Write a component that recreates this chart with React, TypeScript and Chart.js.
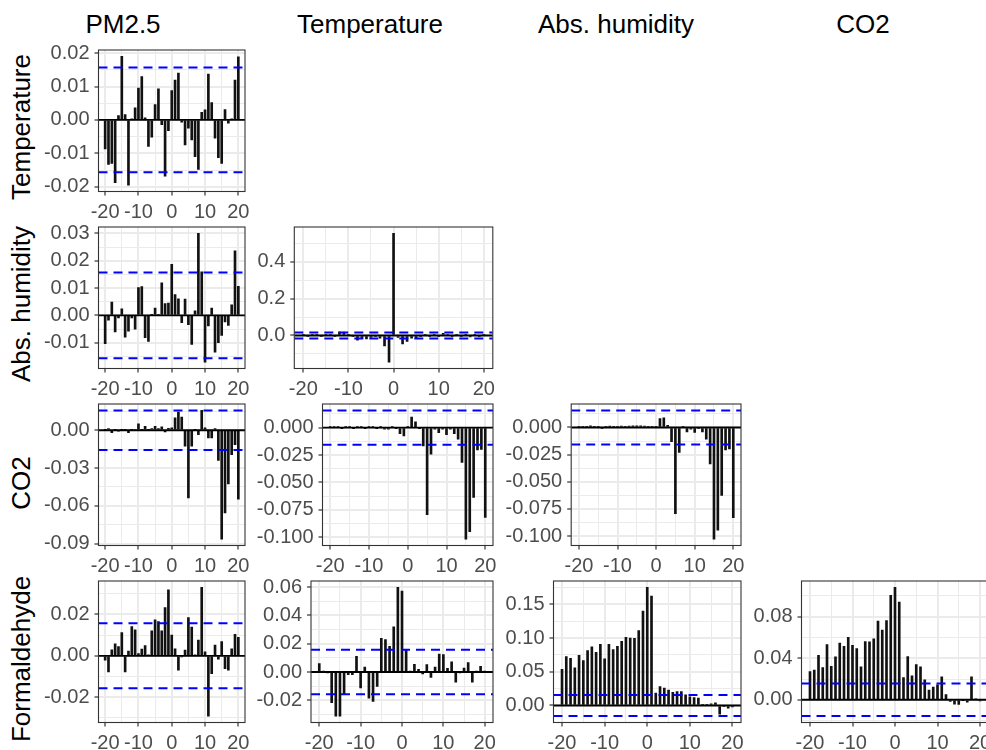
import React, { useEffect, useRef } from "react";
import { Chart, registerables } from "chart.js";

Chart.register(...registerables);

// ---------------- data ----------------
const lags = [
  -20, -19, -18, -17, -16, -15, -14, -13, -12, -11, -10, -9, -8, -7, -6, -5, -4, -3, -2, -1,
  0, 1, 2, 3, 4, 5, 6, 7, 8, 9, 10, 11, 12, 13, 14, 15, 16, 17, 18, 19, 20,
];

const ciBound = 0.0157;

const columnTitles = ["PM2.5", "Temperature", "Abs. humidity", "CO2"];
const rowTitles = ["Temperature", "Abs. humidity", "CO2", "Formaldehyde"];

const xBreaks = [-20, -10, 0, 10, 20];
const xMinorBreaks = [-15, -5, 5, 15];

// Temperature vs PM2.5
const temperatureVsPm25 = [
  -0.0087, -0.0133, -0.013, -0.0188, 0.0013, 0.019, 0.0016, -0.0195, 0.0002, 0.0036,
  0.0095, 0.013, 0.0006, -0.0079, -0.0052, 0.0046, 0.0093, -0.0014, -0.0168, -0.0032,
  0.0088,
  0.0119, 0.014, -0.0007, -0.0075, -0.0025, -0.006, -0.011, -0.0148, 0.0023, 0.003,
  0.0137, 0.0052, -0.0055, -0.0113, -0.013, 0.0031, -0.001, 0.0002, 0.0119, 0.0189,
];
// Abs. humidity vs PM2.5
const humidityVsPm25 = [
  -0.0104, -0.0018, 0.0049, -0.0061, -0.0009, 0.0024, -0.008, -0.0058, -0.0009, -0.0051,
  0.0102, 0.0105, -0.0082, -0.0095, 0.0002, 0.0027, 0.0004, 0.0119, 0.0043, 0.0045,
  0.0187,
  0.0076, 0.0061, -0.0027, 0.006, -0.0034, -0.0106, 0.0017, 0.03, 0.0159, -0.0171,
  -0.0039, 0.0027, -0.0135, -0.01, -0.0073, -0.0024, -0.0037, 0.0039, 0.0236, 0.0106,
];
// Abs. humidity vs Temperature
const humidityVsTemperature = [
  0.003, -0.004, 0.005, 0.002, -0.003, 0.004, 0.006, -0.005, 0.02, 0.018,
  0.004, -0.006, -0.025, -0.015, -0.018, -0.01, -0.006, -0.015, -0.056, -0.144,
  0.553,
  -0.01, -0.045, -0.032, -0.015, -0.012, -0.004, 0.003, -0.005, 0.004, -0.003,
  0.012, 0.004, -0.004, 0.003, -0.006, 0.004, -0.008, 0.003, -0.004, 0.002,
];
// CO2 vs PM2.5
const co2VsPm25 = [
  0.0002, 0.0013, -0.002, 0.0002, -0.0005, 0.0005, 0.0005, -0.002, 0.0005, 0.0008,
  0.005, 0.0002, 0.003, 0.0005, 0.0013, 0.003, 0.0013, 0.0027, -0.0013, 0.0016,
  0.0019,
  0.0098, 0.0143, 0.0104, -0.0127, -0.0536, -0.0127, 0.0002, -0.0035, 0.0157, 0.0019,
  -0.006, -0.006, 0.0013, -0.0239, -0.0863, -0.0655, -0.0425, -0.0194, -0.0114, -0.0547,
];
// CO2 vs Temperature
const co2VsTemperature = [
  0.0003, 0.001, 0.0002, -0.0002, 0.0003, 0.0001, -0.0003, 0.0002, 0.0003, -0.0002,
  0.0002, 0.0003, -0.0003, 0.0002, -0.0015, -0.0015, 0.001, -0.0003, -0.0055, -0.0076,
  0.001,
  0.0097, 0.0052, -0.0006, -0.0167, -0.0796, -0.0243, -0.0015, -0.0046, -0.0015, -0.0064,
  -0.0015, -0.0055, -0.0106, -0.0319, -0.1018, -0.0951, -0.0638, -0.0204, -0.0198, -0.082,
];
// CO2 vs Abs. humidity
const co2VsHumidity = [
  0.0003, 0.001, 0.001, 0.0015, 0.0002, 0.0001, -0.0002, 0.0003, 0.0012, 0.001,
  0.001, 0.0012, 0.001, 0.0012, 0.0015, 0.0015, 0.0015, 0.0012, 0.0005, 0.0002,
  0.0003,
  0.0082, 0.0088, 0.002, -0.0131, -0.0793, -0.0229, 0.001, -0.004, -0.0015, -0.0046,
  -0.0008, -0.004, -0.0107, -0.0335, -0.1027, -0.0945, -0.0625, -0.0207, -0.0198, -0.083,
];
// Formaldehyde vs PM2.5
const formaldehydeVsPm25 = [
  -0.0021, -0.0078, 0.0029, 0.0058, 0.0044, 0.0112, -0.0078, 0.0023, 0.0141, 0.0125,
  0.0011, 0.0032, 0.0049, 0.0002, 0.012, 0.0173, 0.0165, 0.0121, 0.0233, 0.0319,
  0.01,
  0.0034, -0.007, -0.0005, 0.0028, 0.0185, 0.0139, 0.0002, 0.0076, 0.033, 0.0019,
  -0.0291, -0.0086, 0.0052, -0.0016, 0.0068, -0.0062, -0.007, 0.0034, 0.0104, 0.0089,
];
// Formaldehyde vs Temperature
const formaldehydeVsTemperature = [
  0.0059, 0.0003, -0.0002, -0.0217, -0.0311, -0.0311, -0.0156, -0.0019, -0.0019, 0.0111,
  -0.0113, 0.0035, -0.0184, -0.0208, -0.0101, 0.0238, 0.0229, 0.0182, 0.0319, 0.0597,
  0.0571,
  0.0158, 0.0004, 0.0054, 0.0019, -0.0014, 0.0052, -0.0038, 0.0035, 0.0127, 0.0123,
  0.0026, 0.0071, -0.0071, -0.0005, 0.0028, 0.0066, -0.0071, 0.0002, 0.004, 0.0001,
];
// Formaldehyde vs Abs. humidity
const formaldehydeVsHumidity = [
  0.0538, 0.0726, 0.0701, 0.0558, 0.0745, 0.0666, 0.0814, 0.0869, 0.079, 0.0908,
  0.0691, 0.0908, 0.0829, 0.0879, 0.0953, 0.1012, 0.1002, 0.0997, 0.111, 0.1402,
  0.1752,
  0.1624, 0.0183, 0.0281, 0.0257, 0.0227, 0.0197, 0.0207, 0.0207, 0.0158, 0.0128,
  0.0118, 0.0109, 0.0003, 0.0002, 0.0025, 0.004, -0.0128, -0.001, -0.004, -0.002,
];
// Formaldehyde vs CO2
const formaldehydeVsCo2 = [
  0.0272, 0.0285, 0.0429, 0.031, 0.0531, 0.0323, 0.0413, 0.0547, 0.0515, 0.0602,
  0.0525, 0.0493, 0.0317, 0.056, 0.0557, 0.0586, 0.0758, 0.0672, 0.0762, 0.1005,
  0.1082,
  0.0941, 0.0214, 0.0416, 0.023, 0.0339, 0.0317, 0.0192, 0.0093, 0.0122, 0.0144,
  0.0221, 0.0051, -0.0016, -0.0042, -0.0045, -0.0006, -0.0022, 0.0221, 0.001, -0.001,
];

// y-axis tick labels (major breaks) per panel
const yBreaksTemperaturePm25 = [-0.02, -0.01, 0, 0.01, 0.02];
const yBreaksHumidityPm25 = [-0.01, 0, 0.01, 0.02, 0.03];
const yBreaksHumidityTemperature = [0, 0.2, 0.4];
const yBreaksCo2Pm25 = [-0.09, -0.06, -0.03, 0];
const yBreaksCo2Temperature = [-0.1, -0.075, -0.05, -0.025, 0];
const yBreaksCo2Humidity = [-0.1, -0.075, -0.05, -0.025, 0];
const yBreaksFormaldehydePm25 = [-0.02, 0, 0.02];
const yBreaksFormaldehydeTemperature = [-0.02, 0, 0.02, 0.04, 0.06];
const yBreaksFormaldehydeHumidity = [0, 0.05, 0.1, 0.15];
const yBreaksFormaldehydeCo2 = [0, 0.04, 0.08];

// ---------------- layout ----------------
const FONT = '"Liberation Sans", Arial, Helvetica, sans-serif';
const AXIS_W = 80;
const AXIS_H = 36;
const PAD_TOP = 14;
const PAD_RIGHT = 14;
const ROW_TOP = [50, 227, 404, 581];
const PANEL_H = 141.5;
const COL_CENTERS = [123, 370, 616, 863];
const ROW_LABEL_X = 21;
const ROW_LABEL_Y = [127, 304, 483, 659];

type PanelSpec = {
  values: number[];
  yBreaks: number[];
  digits: number;
  left: number;
  top: number;
  width: number;
  height: number;
};

const panels: PanelSpec[] = [
  { values: temperatureVsPm25, yBreaks: yBreaksTemperaturePm25, digits: 2, left: 98.5, top: ROW_TOP[0], width: 146.5, height: PANEL_H },
  { values: humidityVsPm25, yBreaks: yBreaksHumidityPm25, digits: 2, left: 98.5, top: ROW_TOP[1], width: 146.5, height: PANEL_H },
  { values: humidityVsTemperature, yBreaks: yBreaksHumidityTemperature, digits: 1, left: 294.3, top: ROW_TOP[1], width: 198.5, height: PANEL_H },
  { values: co2VsPm25, yBreaks: yBreaksCo2Pm25, digits: 2, left: 98.5, top: ROW_TOP[2], width: 146.5, height: PANEL_H },
  { values: co2VsTemperature, yBreaks: yBreaksCo2Temperature, digits: 3, left: 322.5, top: ROW_TOP[2], width: 170.5, height: PANEL_H },
  { values: co2VsHumidity, yBreaks: yBreaksCo2Humidity, digits: 3, left: 571.2, top: ROW_TOP[2], width: 169.8, height: PANEL_H },
  { values: formaldehydeVsPm25, yBreaks: yBreaksFormaldehydePm25, digits: 2, left: 98.5, top: ROW_TOP[3], width: 146.5, height: PANEL_H },
  { values: formaldehydeVsTemperature, yBreaks: yBreaksFormaldehydeTemperature, digits: 2, left: 311, top: ROW_TOP[3], width: 182, height: PANEL_H },
  { values: formaldehydeVsHumidity, yBreaks: yBreaksFormaldehydeHumidity, digits: 2, left: 553.5, top: ROW_TOP[3], width: 187.5, height: PANEL_H },
  { values: formaldehydeVsCo2, yBreaks: yBreaksFormaldehydeCo2, digits: 2, left: 801.5, top: ROW_TOP[3], width: 187, height: PANEL_H },
];

const near = (a: number, b: number) => Math.abs(a - b) < 1e-9;

const borderPlugin = {
  id: "panelBorder",
  afterDraw(chart: any) {
    const { ctx, chartArea: a } = chart;
    ctx.save();
    ctx.strokeStyle = "#333333";
    ctx.lineWidth = 1.1;
    ctx.strokeRect(a.left, a.top, a.right - a.left, a.bottom - a.top);
    ctx.restore();
  },
};

function PanelChart({ spec }: { spec: PanelSpec }) {
  const ref = useRef<HTMLCanvasElement | null>(null);
  const canvasLeft = Math.floor(spec.left - AXIS_W);
  const canvasTop = Math.floor(spec.top - PAD_TOP);
  const axisW = spec.left - canvasLeft;
  const padTop = spec.top - canvasTop;
  const cw = Math.ceil(axisW + spec.width + PAD_RIGHT);
  const ch = Math.ceil(padTop + spec.height + AXIS_H);
  const padRight = cw - axisW - spec.width;
  const axisH = ch - padTop - spec.height;

  useEffect(() => {
    if (!ref.current) return;
    const lo = Math.min(...spec.values, -ciBound);
    const hi = Math.max(...spec.values, ciBound);
    const expand = (hi - lo) * 0.05;
    const yMin = lo - expand;
    const yMax = hi + expand;
    const step = spec.yBreaks[1] - spec.yBreaks[0];
    const yAll: number[] = [];
    for (let k = -1; k <= spec.yBreaks.length; k++) {
      const major = spec.yBreaks[0] + k * step;
      const minor = major + step / 2;
      if (k >= 0 && k < spec.yBreaks.length && major >= yMin && major <= yMax) yAll.push(spec.yBreaks[k]);
      if (minor >= yMin && minor <= yMax) yAll.push(minor);
    }
    yAll.sort((a, b) => a - b);
    const isYMajor = (v: number) => spec.yBreaks.some((b) => near(b, v));
    const xAll = [...xBreaks, ...xMinorBreaks].sort((a, b) => a - b);
    const isXMajor = (v: number) => xBreaks.some((b) => near(b, v));

    const chart = new Chart(ref.current, {
      type: "bar",
      data: {
        datasets: [
          {
            type: "bar",
            data: lags.map((l, i) => ({ x: l, y: spec.values[i] })),
            backgroundColor: "#111111",
            borderWidth: 0,
            barThickness: 2,
            order: 3,
          } as any,
          {
            type: "line",
            data: [
              { x: -22, y: 0 },
              { x: 22, y: 0 },
            ],
            borderColor: "#000000",
            borderWidth: 1.8,
            pointRadius: 0,
            fill: false,
            order: 2,
          } as any,
          {
            type: "line",
            data: [
              { x: -22, y: ciBound },
              { x: 22, y: ciBound },
            ],
            borderColor: "#0000FF",
            borderWidth: 2,
            borderDash: [9, 6],
            pointRadius: 0,
            fill: false,
            order: 1,
          } as any,
          {
            type: "line",
            data: [
              { x: -22, y: -ciBound },
              { x: 22, y: -ciBound },
            ],
            borderColor: "#0000FF",
            borderWidth: 2,
            borderDash: [9, 6],
            pointRadius: 0,
            fill: false,
            order: 1,
          } as any,
        ],
      },
      options: {
        animation: false,
        responsive: false,
        maintainAspectRatio: false,
        devicePixelRatio: 1,
        events: [],
        layout: { padding: { top: padTop, right: padRight, left: 0, bottom: 0 } },
        plugins: {
          legend: { display: false },
          tooltip: { enabled: false },
          title: { display: false },
        },
        scales: {
          x: {
            type: "linear",
            min: -22,
            max: 22,
            offset: false,
            afterBuildTicks: (scale: any) => {
              scale.ticks = xAll.map((v) => ({ value: v }));
            },
            afterFit: (scale: any) => {
              scale.height = axisH;
              scale.paddingLeft = 0;
              scale.paddingRight = 0;
            },
            ticks: {
              autoSkip: false,
              maxRotation: 0,
              minRotation: 0,
              padding: 5,
              color: "#4D4D4D",
              font: { family: FONT, size: 20 },
              callback: (v: any) => (isXMajor(Number(v)) ? String(v) : ""),
            },
            grid: {
              offset: false,
              color: "#EBEBEB",
              lineWidth: (c: any) => (c.tick && isXMajor(c.tick.value) ? 2 : 1),
              tickColor: (c: any) => (c.tick && isXMajor(c.tick.value) ? "#333333" : "rgba(0,0,0,0)"),
              tickLength: 4,
              tickWidth: 1.2,
              drawTicks: true,
            },
            border: { display: false },
          } as any,
          y: {
            type: "linear",
            min: yMin,
            max: yMax,
            afterBuildTicks: (scale: any) => {
              scale.ticks = yAll.map((v) => ({ value: v }));
            },
            afterFit: (scale: any) => {
              scale.width = axisW;
              scale.paddingTop = 0;
              scale.paddingBottom = 0;
            },
            ticks: {
              autoSkip: false,
              padding: 5,
              color: "#4D4D4D",
              font: { family: FONT, size: 20 },
              callback: (v: any) => {
                const n = Number(v);
                if (!isYMajor(n)) return "";
                const b = spec.yBreaks.find((x) => near(x, n)) as number;
                return b.toFixed(spec.digits);
              },
            },
            grid: {
              color: "#EBEBEB",
              lineWidth: (c: any) => (c.tick && isYMajor(c.tick.value) ? 2 : 1),
              tickColor: (c: any) => (c.tick && isYMajor(c.tick.value) ? "#333333" : "rgba(0,0,0,0)"),
              tickLength: 4,
              tickWidth: 1.2,
              drawTicks: true,
            },
            border: { display: false },
          } as any,
        },
      },
      plugins: [borderPlugin],
    } as any);
    return () => chart.destroy();
  }, []);

  return (
    <canvas
      ref={ref}
      width={cw}
      height={ch}
      style={{ position: "absolute", left: canvasLeft, top: canvasTop, width: cw, height: ch }}
    />
  );
}

export default function App() {
  return (
    <div
      style={{
        position: "absolute",
        left: 0,
        top: 0,
        width: 986,
        height: 750,
        overflow: "hidden",
        background: "#FFFFFF",
        fontFamily: FONT,
      }}
    >
      {columnTitles.map((t, i) => (
        <div
          key={"c" + i}
          style={{
            position: "absolute",
            left: COL_CENTERS[i],
            top: 11,
            transform: "translateX(-50%)",
            fontSize: 26,
            lineHeight: "26px",
            whiteSpace: "nowrap",
            color: "#000000",
          }}
        >
          {t}
        </div>
      ))}
      {rowTitles.map((t, i) => (
        <div
          key={"r" + i}
          style={{
            position: "absolute",
            left: ROW_LABEL_X,
            top: ROW_LABEL_Y[i],
            transform: "translate(-50%, -50%) rotate(-90deg)",
            fontSize: 26,
            lineHeight: "26px",
            whiteSpace: "nowrap",
            color: "#000000",
          }}
        >
          {t}
        </div>
      ))}
      {panels.map((p, i) => (
        <PanelChart key={i} spec={p} />
      ))}
    </div>
  );
}
